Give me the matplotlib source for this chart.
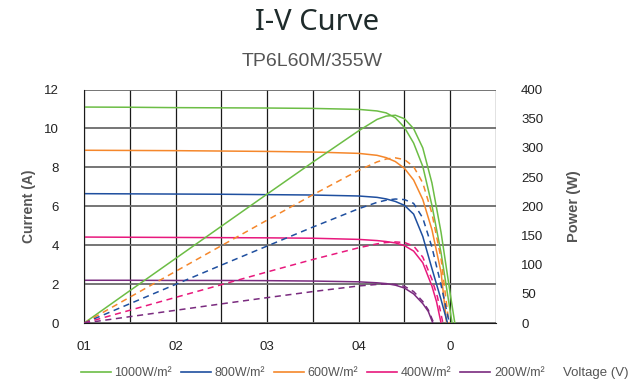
import matplotlib.pyplot as plt
import matplotlib.transforms as mtransforms

# voltage points (V)
v_pts = [0, 5, 10, 15, 20, 25, 30, 32, 33, 34, 35, 36, 37, 38, 39, 40]

# current (A) per irradiance curve, last point is Voc
i_green = [11.10, 11.09, 11.07, 11.06, 11.05, 11.03, 10.98, 10.90, 10.80, 10.55, 10.05, 9.25, 8.05, 6.05, 3.6, 0.6, 0]
i_orange = [8.88, 8.87, 8.86, 8.84, 8.82, 8.79, 8.72, 8.62, 8.50, 8.30, 7.95, 7.35, 6.35, 4.8, 2.6, 0]
i_blue = [6.65, 6.64, 6.63, 6.62, 6.60, 6.58, 6.53, 6.46, 6.38, 6.25, 6.05, 5.6, 4.45, 2.8, 1.2, 0]
i_pink = [4.42, 4.41, 4.40, 4.39, 4.38, 4.36, 4.30, 4.24, 4.19, 4.12, 3.98, 3.7, 3.1, 1.9, 1.1, 0]
i_purple = [2.20, 2.20, 2.19, 2.19, 2.18, 2.16, 2.12, 2.07, 2.03, 1.95, 1.80, 1.5, 1.0, 0.6, 0]

v_green_i = v_pts + [40.2]
v_orange_i = v_pts[:-1] + [39.6]
v_blue_i = v_pts[:-1] + [39.7]
v_pink_i = v_pts[:-2] + [38.5, 39.0]
v_purple_i = v_pts[:-3] + [37.6, 38.1]

# power (W) per irradiance curve
p_green = [0, 55.5, 110.7, 165.9, 221, 275.8, 329.4, 348.8, 354.5, 356, 350, 333, 300, 240, 155, 50, 0]
p_orange = [0, 44.4, 88.6, 132.6, 176.4, 219.8, 261.6, 276, 281, 283, 280, 268, 240, 188, 110, 0]
p_blue = [0, 33.2, 66.3, 99.3, 132, 164.5, 195.9, 206.7, 210.5, 212.5, 211.5, 205, 180, 130, 65, 0]
p_pink = [0, 22, 44, 65.8, 87.6, 109, 129, 135.7, 138, 139, 138, 132, 113, 75, 45, 0]
p_purple = [0, 11, 21.9, 32.9, 43.6, 54, 63.6, 66.2, 67, 66.3, 63, 54, 37, 22.6, 0]

v_green_p = v_pts + [40.5]
v_orange_p = v_pts[:-1] + [39.85]
v_blue_p = v_pts[:-1] + [39.9]
v_pink_p = v_pts[:-2] + [38.6, 39.2]
v_purple_p = v_pts[:-3] + [37.6, 38.2]

legend_labels = ["1000W/m²", "800W/m²", "600W/m²", "400W/m²", "200W/m²"]
x_ticks = [0, 10, 20, 30, 40]
x_tick_labels = ["01", "02", "03", "04", "0"]

c_green = "#6cbd45"
c_blue = "#1f4f9f"
c_orange = "#f5872b"
c_pink = "#e8197d"
c_purple = "#7a2b7f"
grey = "#555555"

plt.rcParams['font.family'] = ['Liberation Sans', 'DejaVu Sans']

fig = plt.figure(figsize=(6.42, 3.81), dpi=100)
ax = fig.add_axes([0.131, 0.152, 0.6416, 0.613])
ax2 = ax.twinx()

# grid
for x in range(0, 46, 5):
    ax.axvline(x, color="#1a1a1a", lw=0.9, zorder=0)
for y in range(0, 13, 2):
    ax.axhline(y, color="#6a6a6a", lw=1.3, zorder=0)

lw = 1.1
ax.plot(v_green_i, i_green, color=c_green, lw=lw)
ax.plot(v_orange_i, i_orange, color=c_orange, lw=lw)
ax.plot(v_blue_i, i_blue, color=c_blue, lw=lw)
ax.plot(v_pink_i, i_pink, color=c_pink, lw=lw)
ax.plot(v_purple_i, i_purple, color=c_purple, lw=lw)

ax2.plot(v_green_p, p_green, color=c_green, lw=lw)
ax2.plot(v_orange_p, p_orange, color=c_orange, lw=lw, ls=(0, (4, 3)))
ax2.plot(v_blue_p, p_blue, color=c_blue, lw=lw, ls=(0, (4, 3)))
ax2.plot(v_pink_p, p_pink, color=c_pink, lw=lw, ls=(0, (4, 3)))
ax2.plot(v_purple_p, p_purple, color=c_purple, lw=lw, ls=(0, (4, 3)))

ax.set_xlim(0, 45)
ax.set_ylim(0, 12)
ax2.set_ylim(0, 400)
ax.set_xticks(x_ticks)
ax.set_xticklabels(x_tick_labels)
ax.set_yticks(range(0, 13, 2))
ax2.set_yticks(range(0, 401, 50))

offset = mtransforms.ScaledTranslation(4 / 100, 0, fig.dpi_scale_trans)
for lab in ax.get_xticklabels()[:-1]:
    lab.set_transform(lab.get_transform() + offset)

ax.tick_params(axis='both', length=0, labelsize=9.5, colors="#222222")
ax.tick_params(axis='x', pad=13)
ax.tick_params(axis='y', pad=18)
ax2.tick_params(axis='y', length=0, labelsize=9.5, colors="#222222", pad=18)

for a in (ax, ax2):
    for s in a.spines.values():
        s.set_visible(False)
ax.spines['left'].set_visible(True)
ax.spines['bottom'].set_visible(True)
ax.spines['left'].set_color("#1a1a1a")
ax.spines['bottom'].set_color("#1a1a1a")

ax.set_ylabel("Current (A)", fontsize=10, fontweight='bold', color=grey, labelpad=6)
ax2.set_ylabel("Power (W)", fontsize=10.5, fontweight='bold', color=grey, labelpad=17)

fig.text(0.494, 0.942, "I-V Curve", ha='center', va='center', fontsize=21,
         color="#1f2b2b", family=['Noto Sans', 'DejaVu Sans'])
fig.text(0.486, 0.838, "TP6L60M/355W", ha='center', va='center', fontsize=14, color=grey)

handles = [plt.Line2D([], [], color=c, lw=1.2) for c in (c_green, c_blue, c_orange, c_pink, c_purple)]
leg = fig.legend(handles, legend_labels, loc='center left', bbox_to_anchor=(0.118, 0.02),
                 ncol=5, frameon=False, fontsize=9, handlelength=2.4, handletextpad=0.3,
                 columnspacing=0.7, borderaxespad=0)
for t in leg.get_texts():
    t.set_color(grey)
fig.text(0.877, 0.02, "Voltage (V)", ha='left', va='center', fontsize=9.5, color=grey)

fig.savefig("out.png", dpi=100)
